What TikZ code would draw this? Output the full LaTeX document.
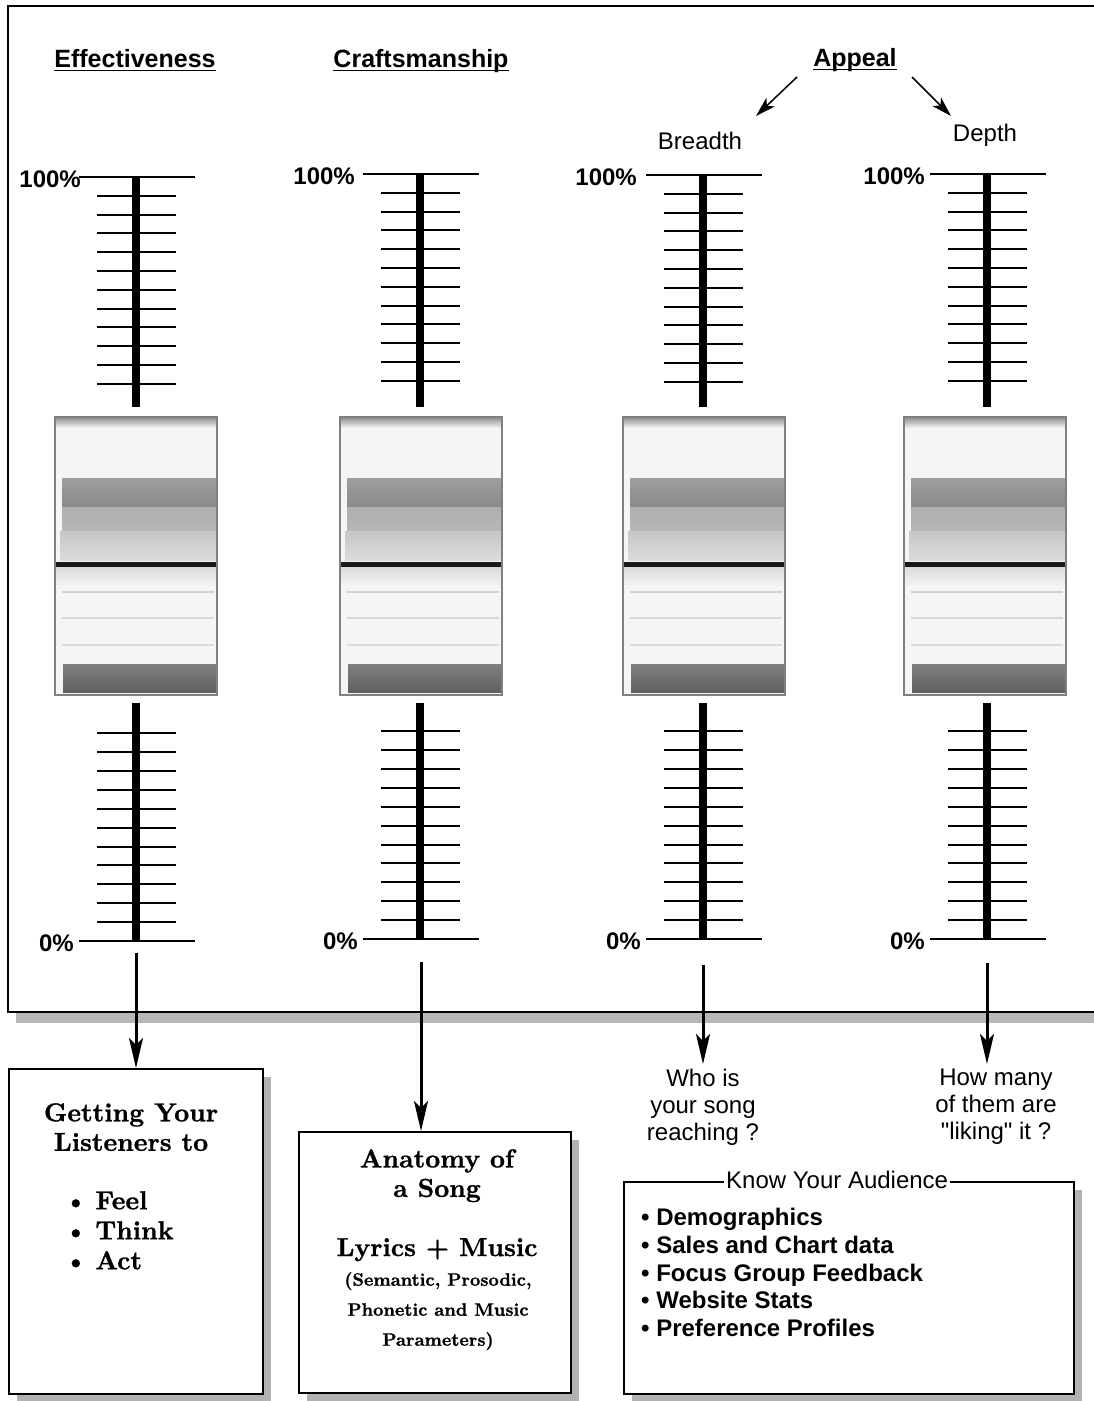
\documentclass[tikz,border=0pt]{standalone}
\usepackage{fontspec}
\usetikzlibrary{arrows.meta,shadows}
\newfontfamily\hv{Liberation Sans}
\newfontfamily\serifbold{lmroman10-bold.otf}[FakeBold=1]

\tikzset{
  head/.style={font=\hv\bfseries\fontsize{25}{29}\selectfont, inner sep=0pt, anchor=base},
  sub/.style={font=\hv\fontsize{24}{28}\selectfont, inner sep=0pt},
  pct/.style={font=\hv\bfseries\fontsize{24}{28}\selectfont, inner sep=0pt},
  question/.style={font=\hv\fontsize{24}{27}\selectfont, inner sep=0pt, align=center},
  serifbig/.style={font=\serifbold\fontsize{26}{29.5}\selectfont, inner sep=0pt},
  serifsmall/.style={font=\serifbold\fontsize{18}{30}\selectfont, inner sep=0pt},
  rail/.style={line width=1.6pt},
  tickline/.style={line width=2pt},
  spine/.style={line width=8pt},
  bigarrow/.style={line width=3pt, -{Stealth[length=30pt,width=14pt,inset=7pt]}},
  smallarrow/.style={line width=1.5pt, -{Stealth[length=20pt,width=12pt,inset=5pt]}},
  panel/.style={draw, line width=1.6pt, fill=white,
    drop shadow={shadow xshift=8pt, shadow yshift=-8pt, fill=black!30, opacity=1}},
}

% one measuring scale: #1 id, #2 centre x, #3 y of the 100% line, #4 y of the 0% line,
% #5 right edge of the 100% label
\newcommand{\measurescale}[5]{%
  \draw[rail] (#2-57,#3) -- (#2+59,#3);
  \foreach \k in {1,...,11}
    \draw[tickline] (#2-39,#3+\k*18.8) -- (#2+40,#3+\k*18.8);
  \draw[spine] (#2,#3) -- (#2,407);
  \node[pct, anchor=east] (top#1) at (#5,#3+2) {100\%};
  \draw[rail] (#2-57,#4) -- (#2+59,#4);
  \foreach \k in {1,...,11}
    \draw[tickline] (#2-39,#4-\k*18.9) -- (#2+40,#4-\k*18.9);
  \draw[spine] (#2,703) -- (#2,#4);
  \node[pct, anchor=east] (zero#1) at (#2-62,#4+2) {0\%};
}

% the slider knob centred on x = #1
\newcommand{\sliderknob}[1]{%
  \begin{scope}[shift={(#1,0)}]
    \fill[black!4] (-81,417) rectangle (81,695);
    \shade[top color=black!45, bottom color=black!4] (-81,417) rectangle (81,428);
    \shade[top color=black!38, bottom color=black!46] (-74,478) rectangle (80,507);
    \shade[top color=black!32, bottom color=black!28] (-74,507) rectangle (80,531);
    \shade[top color=black!22, bottom color=black!14] (-76,531) rectangle (80,560);
    \fill[black!90] (-81,561.5) rectangle (81,566.5);
    \shade[top color=black!14, bottom color=black!5] (-81,567) rectangle (81,585);
    \draw[black!18, line width=1.2pt] (-74,592) -- (78,592);
    \draw[black!16, line width=1.2pt] (-74,618) -- (78,618);
    \draw[black!14, line width=1.2pt] (-74,645) -- (78,645);
    \shade[top color=black!50, bottom color=black!62] (-73,664) rectangle (80,692);
    \draw[black!50, line width=1.6pt] (-81,417) rectangle (81,695);
  \end{scope}
}

\begin{document}
\begin{tikzpicture}[x=1pt,y=-1pt]
  \useasboundingbox (0,0) rectangle (1094,1401);
  \clip (0,0) rectangle (1094,1401);
  \fill[white] (0,0) rectangle (1094,1401);

  % outer frame, open to the right, with its shadow below
  \fill[black!28] (16,1013) rectangle (1100,1023);
  \draw[line width=2pt] (1100,6) -- (8,6) -- (8,1012) -- (1100,1012);

  % column headings
  \node[head] (eff) at (135,67) {Effectiveness};
  \node[head] (craft) at (421,67) {Craftsmanship};
  \node[head] (appeal) at (855,66) {Appeal};
  \foreach \n in {eff,craft,appeal}
    \draw[line width=1.8pt] ([yshift=-3.5pt]\n.base west) -- ([yshift=-3.5pt]\n.base east);
  \node[sub] (breadth) at (700,141) {Breadth};
  \node[sub] (depth) at (985,135) {Depth};
  \coordinate (apL) at (797,77);
  \coordinate (brT) at (756,116);
  \coordinate (apR) at (912,77);
  \coordinate (deT) at (951,116);
  \draw[smallarrow] (apL) -- (brT);
  \draw[smallarrow] (apR) -- (deT);

  % scales and knobs
  \measurescale{1}{136}{177}{941}{81}
  \measurescale{2}{420}{174}{939}{355}
  \measurescale{3}{703}{175}{939}{637}
  \measurescale{4}{987}{174}{939}{925}
  \sliderknob{136}
  \sliderknob{421}
  \sliderknob{704}
  \sliderknob{985}

  % result panels
  \node[panel, minimum width=254pt, minimum height=325pt, anchor=north west, inner sep=0pt] (b1) at (8,1068) {};
  \node[panel, minimum width=272pt, minimum height=261pt, anchor=north west, inner sep=0pt] (b2) at (298,1131) {};
  \node[panel, minimum width=450pt, minimum height=212pt, anchor=north west, inner sep=0pt] (b3) at (623,1181) {};

  \node[serifbig, align=center, anchor=north] (g1) at (131,1103) {Getting Your\\Listeners to};
  \node[serifbig, align=left, anchor=north west] (g2) at (64,1191)
    {\textbullet\hspace{8pt}Feel\\[0.5pt]\textbullet\hspace{8pt}Think\\[0.5pt]\textbullet\hspace{8pt}Act};

  \node[serifbig, align=center, anchor=north] (s1) at (437,1149) {Anatomy of\\a Song};
  \node[serifbig, anchor=north] (s2) at (437,1238) {Lyrics + Music};
  \node[serifsmall, align=center, anchor=north] (s3) at (438,1272)
    {(Semantic, Prosodic,\\Phonetic and Music\\Parameters)};

  \node[font=\hv\fontsize{24}{28}\selectfont, fill=white, inner xsep=2pt, inner ysep=1pt, anchor=west] (ktitle) at (724,1180) {Know Your Audience\hspace{6pt}};
  \node[font=\hv\bfseries\fontsize{24}{27.7}\selectfont, align=left, anchor=north west, inner sep=0pt] (klist) at (641,1208)
    {• Demographics\\• Sales and Chart data\\• Focus Group Feedback\\• Website Stats\\• Preference Profiles};

  \node[question, anchor=north] (q3) at (703,1069) {Who is\\your song\\reaching ?};
  \node[question, anchor=north] (q4) at (996,1069) {How many\\of them are\\"liking" it ?};

  % arrows from the scales to their panels
  \coordinate (a1) at (136,953);
  \coordinate (a2) at (421,962);
  \coordinate (a3) at (703,965);
  \coordinate (a4) at (987,963);
  \draw[bigarrow] (a1) -- (a1 |- b1.north);
  \draw[bigarrow] (a2) -- (a2 |- b2.north);
  \draw[bigarrow] (a3) -- ([yshift=5pt]a3 |- q3.north);
  \draw[bigarrow] (a4) -- ([yshift=5pt]a4 |- q4.north);
\end{tikzpicture}
\end{document}
